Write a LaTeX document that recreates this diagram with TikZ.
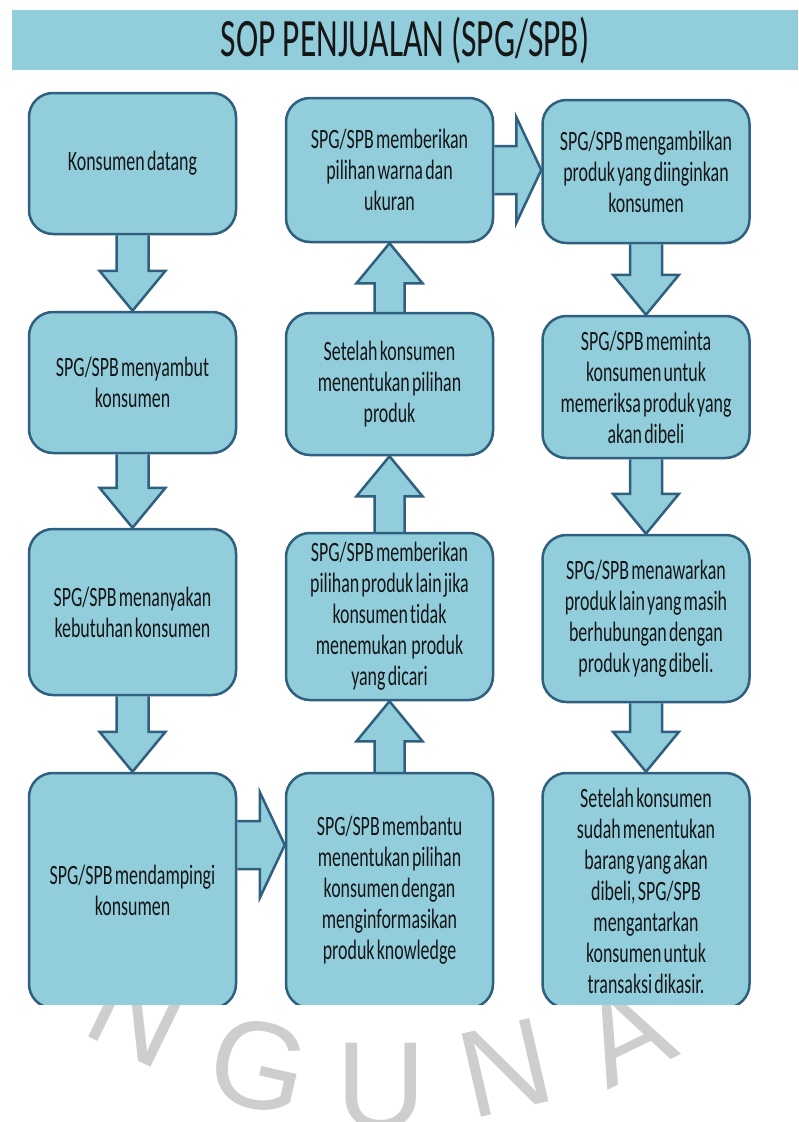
\documentclass[tikz,border=0pt]{standalone}
\usepackage{fontspec}
\usepackage{tikz}
\usetikzlibrary{calc,backgrounds}

\newfontfamily\slidefont[FakeStretch=0.64,WordSpace=0.55,Ligatures=NoCommon]{Carlito}
\newfontfamily\titlefont[FakeStretch=0.62,WordSpace=0.95,Ligatures=NoCommon]{Carlito}
\newfontfamily\markfont{Liberation Sans}

\definecolor{boxfill}{RGB}{146,205,220}
\definecolor{boxline}{RGB}{48,96,128}
\definecolor{marktext}{RGB}{206,206,206}
\definecolor{slidetext}{RGB}{22,22,22}

\pgfdeclarelayer{back}
\pgfsetlayers{back,background,main}

\tikzset{
  stepbox/.style={draw=boxline, line width=2.5pt, fill=boxfill, rounded corners=24pt,
    minimum width=207pt, inner sep=0pt, align=center, text=slidetext,
    font=\slidefont\fontsize{28}{31}\selectfont},
  blockarrow/.style={draw=boxline, line width=2.5pt, fill=boxfill, line join=miter},
  markletter/.style={text=marktext, inner sep=0pt, font=\markfont\fontsize{124}{124}\selectfont}
}

% block arrows between steps
\newcommand{\downblock}[2]{%
  \draw[blockarrow] ($(#1.south)+(-16,0)$) -- ($(#2.north)+(-16,-40)$) -- ($(#2.north)+(-33,-40)$)
    -- (#2.north) -- ($(#2.north)+(33,-40)$) -- ($(#2.north)+(16,-40)$) -- ($(#1.south)+(16,0)$);}
\newcommand{\upblock}[2]{%
  \draw[blockarrow] ($(#1.north)+(-15,0)$) -- ($(#2.south)+(-15,40)$) -- ($(#2.south)+(-33,40)$)
    -- (#2.south) -- ($(#2.south)+(33,40)$) -- ($(#2.south)+(15,40)$) -- ($(#1.north)+(15,0)$);}
\newcommand{\rightblock}[3]{%
  \coordinate (ra) at (#1.east |- 0,#3);
  \coordinate (rb) at (#2.west |- 0,#3);
  \draw[blockarrow] ($(ra)+(0,-24)$) -- ($(rb)+(-25,-24)$) -- ($(rb)+(-25,-53)$)
    -- (rb) -- ($(rb)+(-25,53)$) -- ($(rb)+(-25,24)$) -- ($(ra)+(0,24)$);}

\begin{document}
\begin{tikzpicture}[x=1pt,y=-1pt]
\useasboundingbox (0,0) rectangle (798,1122);

% watermark below the slide
\begin{pgfonlayer}{back}
  \node[markletter, rotate=-26] (m1) at (138,1014) {N};
  \node[markletter, rotate=-13] (m2) at (259,1066) {G};
  \node[markletter] (m3) at (381,1086) {U};
  \node[markletter, rotate=13] (m4) at (506,1068) {N};
  \node[markletter, rotate=26] (m5) at (626,1034) {A};
  \fill[white] (0,0) rectangle (798,1004);
\end{pgfonlayer}

\begin{scope}
\clip (0,0) rectangle (798,1004);
\node[fill=boxfill, minimum width=786pt, minimum height=60pt, inner sep=0pt, text=slidetext,
  font=\titlefont\fontsize{54}{54}\selectfont] (banner) at (405,40) {SOP PENJUALAN (SPG/SPB)};

% first column
\node[stepbox, minimum height=141pt] (b1) at (132.5,163.5) {Konsumen datang};
\node[stepbox, minimum height=141pt] (b2) at (132.5,382.5) {SPG/SPB menyambut\\konsumen};
\node[stepbox, minimum height=166pt] (b3) at (132.5,612) {SPG/SPB menanyakan\\kebutuhan konsumen};
\node[stepbox, minimum height=235pt] (b4) at (132.5,890.5) {SPG/SPB mendampingi\\konsumen};

% second column
\node[stepbox, minimum height=144pt] (c1) at (389.5,170) {SPG/SPB memberikan\\pilihan warna dan\\ukuran};
\node[stepbox, minimum height=142pt] (c2) at (389.5,384) {Setelah konsumen\\menentukan pilihan\\produk};
\node[stepbox, minimum height=167pt] (c3) at (389.5,616.5) {SPG/SPB memberikan\\pilihan produk lain jika\\konsumen tidak\\menemukan~ produk\\yang dicari};
\node[stepbox, minimum height=235pt] (c4) at (389.5,890.5) {SPG/SPB membantu\\menentukan pilihan\\konsumen dengan\\menginformasikan\\produk knowledge};

% third column
\node[stepbox, minimum height=143pt] (d1) at (646,171.5) {SPG/SPB mengambilkan\\produk yang diinginkan\\konsumen};
\node[stepbox, minimum height=142pt] (d2) at (646,387) {SPG/SPB meminta\\konsumen untuk\\memeriksa produk yang\\akan dibeli};
\node[stepbox, minimum height=167pt] (d3) at (646,618.5) {SPG/SPB menawarkan\\produk lain yang masih\\berhubungan dengan\\produk yang dibeli.};
\node[stepbox, minimum height=235pt] (d4) at (646,890.5) {Setelah konsumen\\sudah menentukan\\barang yang akan\\dibeli, SPG/SPB\\mengantarkan\\konsumen untuk\\transaksi dikasir.};
\end{scope}

\begin{pgfonlayer}{background}
  \downblock{b1}{b2}
  \downblock{b2}{b3}
  \downblock{b3}{b4}
  \rightblock{b4}{c4}{845}
  \upblock{c4}{c3}
  \upblock{c3}{c2}
  \upblock{c2}{c1}
  \rightblock{c1}{d1}{170}
  \downblock{d1}{d2}
  \downblock{d2}{d3}
  \downblock{d3}{d4}
\end{pgfonlayer}
\end{tikzpicture}
\end{document}
